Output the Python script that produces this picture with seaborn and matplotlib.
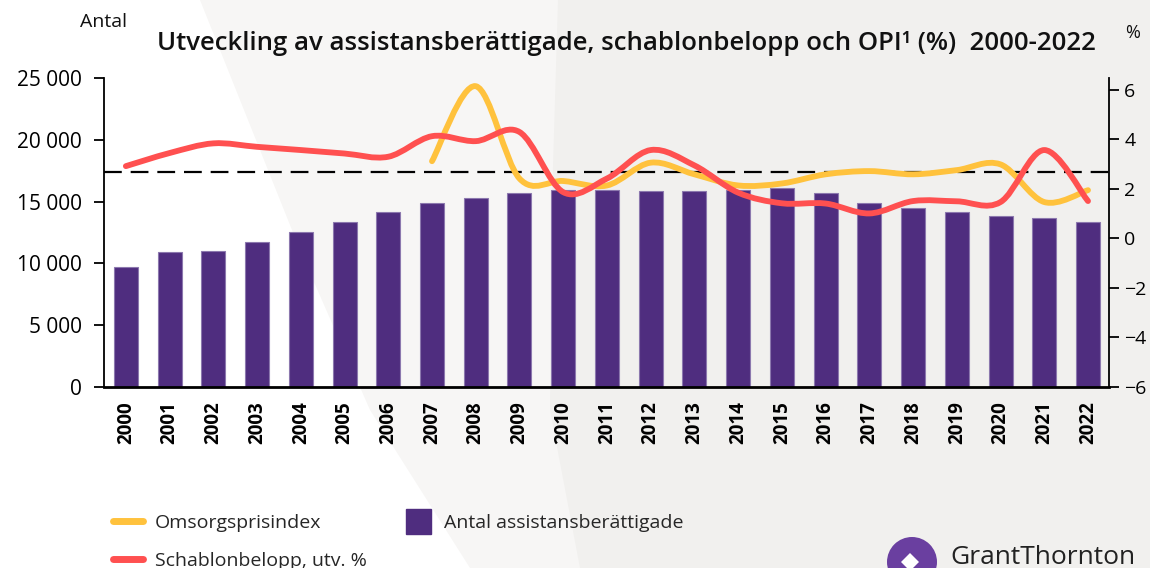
import numpy as np
import pandas as pd
import matplotlib
matplotlib.use("Agg")
import matplotlib.pyplot as plt
import seaborn as sns
from matplotlib.path import Path
from matplotlib.patches import PathPatch, Polygon, Circle, RegularPolygon
from matplotlib.lines import Line2D
from matplotlib.ticker import FuncFormatter

# --- data ---
years = [str(y) for y in range(2000, 2023)]
antal = [9700, 10900, 11000, 11700, 12500, 13350, 14130, 14860, 15270, 15720,
         15910, 15960, 15860, 15830, 15940, 16130, 15670, 14860, 14480, 14130,
         13830, 13650, 13320]
schablon = [2.92, 3.45, 3.84, 3.70, 3.57, 3.43, 3.30, 4.13, 3.93, 4.30,
            1.87, 2.42, 3.57, 2.95, 1.85, 1.42, 1.41, 1.01, 1.51, 1.50,
            1.47, 3.57, 1.51]
opi_years = [str(y) for y in range(2007, 2023)]
opi = [3.12, 6.15, 2.42, 2.32, 2.14, 3.06, 2.59, 2.14, 2.22, 2.59,
       2.72, 2.59, 2.76, 2.99, 1.47, 1.95]
ref_level = 2.7

PURPLE = "#4F2D7F"
YELLOW = "#FFC23D"
RED = "#FF5050"

sns.set_theme(style="white")
plt.rcParams["font.family"] = ["Open Sans", "DejaVu Sans"]


def smooth_path(xs, ys):
    # Bezier-smoothed line through the data points (Excel "smoothed line" look)
    n = len(xs)
    verts = [(xs[0], ys[0])]
    codes = [Path.MOVETO]
    for i in range(n - 1):
        a = max(i - 1, 0)
        b = min(i + 2, n - 1)
        c1 = (xs[i] + (xs[i + 1] - xs[a]) / 6, ys[i] + (ys[i + 1] - ys[a]) / 6)
        c2 = (xs[i + 1] - (xs[b] - xs[i]) / 6, ys[i + 1] - (ys[b] - ys[i]) / 6)
        verts += [c1, c2, (xs[i + 1], ys[i + 1])]
        codes += [Path.CURVE4] * 3
    return Path(verts, codes)


fig = plt.figure(figsize=(11.5, 5.68), dpi=100)
fig.patch.set_facecolor("#F1F0EE")

# background shapes
W, H = 1150, 568
def px(pts):
    return [(x / W, 1 - y / H) for x, y in pts]
fig.patches.append(Polygon(px([(0, 0), (558, 0), (552, 200), (550, 410), (580, 568), (0, 568)]),
                           closed=True, transform=fig.transFigure, facecolor="#F7F6F5",
                           edgecolor="none", zorder=-10))
fig.patches.append(Polygon(px([(0, 0), (200, 0), (300, 250), (370, 410), (470, 568), (0, 568)]),
                           closed=True, transform=fig.transFigure, facecolor="#FFFFFF",
                           edgecolor="none", zorder=-9))

ax = fig.add_axes([104 / W, 1 - 387 / H, (1109 - 104) / W, (387 - 78) / H])
ax.patch.set_alpha(0)

df = pd.DataFrame({"year": years, "antal": antal})
sns.barplot(data=df, x="year", y="antal", color=PURPLE, width=0.55, saturation=1,
            edgecolor="#8C78AE", linewidth=0.8, ax=ax)
ax.set_xlim(-0.5, 22.48)
ax.set_ylim(0, 25000)
ax.set_yticks(range(0, 25001, 5000))
ax.yaxis.set_major_formatter(FuncFormatter(lambda v, p: f"{int(v):,}".replace(",", " ")))
ax.set_xlabel("")
ax.set_ylabel("")
for s in ["top", "right"]:
    ax.spines[s].set_visible(False)
ax.spines["left"].set_color("black")
ax.spines["left"].set_linewidth(1.3)
ax.spines["bottom"].set_color("black")
ax.spines["bottom"].set_linewidth(2)
ax.tick_params(axis="y", left=True, length=7, width=1.3, color="black", labelsize=15,
               labelcolor="black", pad=9)
ax.tick_params(axis="x", bottom=False, labelsize=13.5, labelcolor="black", pad=4)
for lab in ax.get_xticklabels():
    lab.set_rotation(90)
    lab.set_fontweight("bold")

ax2 = ax.twinx()
ax2.set_ylim(-6, 6.48)
ax2.set_yticks([6, 4, 2, 0, -2, -4, -6])
for s in ["top", "left", "bottom"]:
    ax2.spines[s].set_visible(False)
ax2.spines["right"].set_color("black")
ax2.spines["right"].set_linewidth(1.3)
ax2.tick_params(axis="y", right=True, length=7, width=1.3, color="black", labelsize=14,
                labelcolor="black", pad=4)
ax2.grid(False)
ax.grid(False)

ax2.axhline(ref_level, color="black", lw=1.6, dashes=(8, 4), zorder=3)

x_all = np.arange(len(years))
x_opi = np.array([years.index(y) for y in opi_years])
ax2.add_patch(PathPatch(smooth_path(x_opi, opi), fill=False, edgecolor=YELLOW, lw=4.2,
                        capstyle="round", joinstyle="round", zorder=4))
ax2.add_patch(PathPatch(smooth_path(x_all, schablon), fill=False, edgecolor=RED, lw=4.2,
                        capstyle="round", joinstyle="round", zorder=5))

# texts
fig.text(0.5 * (160 + 1092) / W, 1 - 43 / H,
         "Utveckling av assistansberättigade, schablonbelopp och OPI\u00b9 (%)  2000-2022",
         ha="center", va="center", fontsize=18.5, fontweight="semibold", color="#111111")
fig.text(80 / W, 1 - 22 / H, "Antal", ha="left", va="center", fontsize=14, color="#111111")
fig.text(1133 / W, 1 - 33 / H, "%", ha="center", va="center", fontsize=13, color="#111111")

handles = [Line2D([], [], color=YELLOW, lw=5, solid_capstyle="round"),
           Line2D([], [], color=RED, lw=5, solid_capstyle="round"),
           Line2D([], [], color=PURPLE, marker="s", markersize=18, linestyle="none")]
labels = ["Omsorgsprisindex", "Schablonbelopp, utv. %", "Antal assistansberättigade"]
fig.legend(handles, labels, ncol=2, loc="upper left", bbox_to_anchor=(113 / W, 1 - 514 / H),
           frameon=False, fontsize=14, handlelength=1.55, handleheight=0.8,
           borderpad=0, borderaxespad=0,
           columnspacing=1.85, labelspacing=1.0, handletextpad=0.6)

# logo (drawn in inches so the circle stays round)
inch = fig.dpi_scale_trans
fig.patches.append(Circle((9.12, (H - 562) / 100), 0.25, transform=inch,
                          facecolor="#6A3FA0", edgecolor="none"))
fig.patches.append(RegularPolygon((9.10, (H - 562) / 100), 4, radius=0.09, transform=inch,
                                  facecolor="white", edgecolor="none"))
fig.text(950 / W, 1 - 545 / H, "GrantThornton", ha="left", va="top", fontsize=19,
         color="#222222")

fig.savefig("out.png", dpi=100)
